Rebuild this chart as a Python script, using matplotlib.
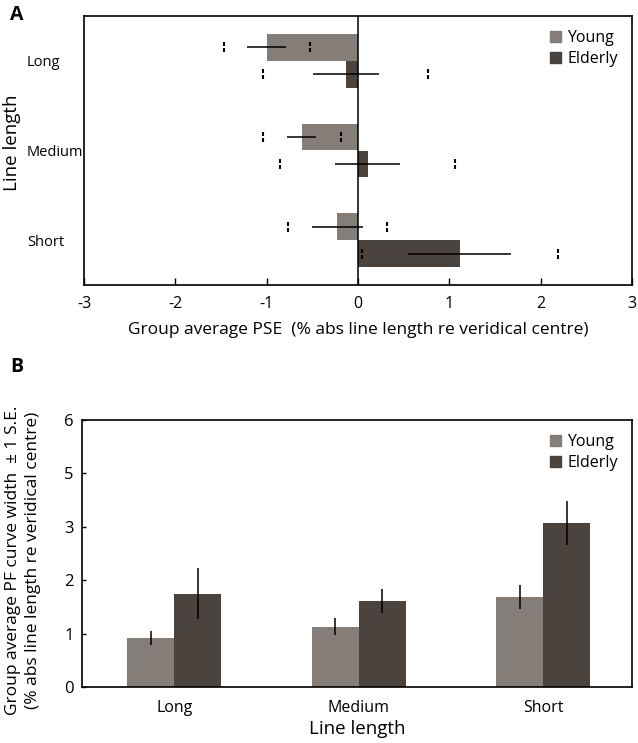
import matplotlib
matplotlib.use("Agg")
import matplotlib.pyplot as plt
import numpy as np
from matplotlib.patches import Patch

plt.rcParams['font.family'] = ['Open Sans', 'DejaVu Sans']

# ---- data ----
categories = ["Long", "Medium", "Short"]
groups = ["Young", "Elderly"]

# Panel A: group average PSE
pse_young = [-1.00, -0.615, -0.225]
pse_elderly = [-0.135, 0.105, 1.115]
pse_se_young = [0.21, 0.16, 0.275]
pse_se_elderly = [0.36, 0.355, 0.565]
pse_ci_young = [0.47, 0.43, 0.545]
pse_ci_elderly = [0.905, 0.955, 1.075]
a_xticks = [-3, -2, -1, 0, 1, 2, 3]

# Panel B: group average PF curve width
width_young = [0.91, 1.13, 1.685]
width_elderly = [1.75, 1.61, 3.07]
width_se_young = [0.13, 0.165, 0.22]
width_se_elderly = [0.47, 0.23, 0.415]
b_yticks = [0, 1, 2, 3, 4, 5]
b_yticklabels = ["0", "1", "2", "3", "5", "6"]

c_young = "#847d78"
c_elderly = "#4a433e"

W, H = 638, 743
fig = plt.figure(figsize=(W / 100, H / 100), dpi=100)

def ax_rect(l, t, r, b):
    return [l / W, 1 - b / H, (r - l) / W, (b - t) / H]

# ---------------- Panel A ----------------
axA = fig.add_axes(ax_rect(84, 16, 632, 285))
y = np.arange(len(categories))
h = 0.30
yy = y - h / 2
ye = y + h / 2
axA.barh(yy, pse_young, height=h, color=c_young, label="Young")
axA.barh(ye, pse_elderly, height=h, color=c_elderly, label="Elderly")
axA.errorbar(pse_young, yy, xerr=pse_se_young, fmt='none', ecolor='black',
             elinewidth=1.1, capsize=0)
axA.errorbar(pse_elderly, ye, xerr=pse_se_elderly, fmt='none', ecolor='black',
             elinewidth=1.1, capsize=0)
for vals, cis, pos in [(pse_young, pse_ci_young, yy), (pse_elderly, pse_ci_elderly, ye)]:
    for v, c, p in zip(vals, cis, pos):
        for xv in (v - c, v + c):
            axA.vlines(xv, p - 0.056, p + 0.056, colors='black', linewidth=1.5,
                       linestyles=(0, (1.9, 1.0)))
axA.axvline(0, color='black', linewidth=1.1)
axA.set_xlim(-3, 3)
axA.set_ylim(2.5, -0.5)
axA.set_xticks(a_xticks)
axA.set_xticklabels([str(t) for t in a_xticks])
axA.tick_params(axis='x', direction='in', length=5, width=1, labelsize=11.5, pad=8)
axA.set_yticks(y)
axA.set_yticklabels(categories, ha='left')
axA.tick_params(axis='y', length=0, labelsize=10.5, pad=41)
for s in axA.spines.values():
    s.set_linewidth(1.2)
axA.set_xlabel("Group average PSE  (% abs line length re veridical centre)",
               fontsize=12.5, labelpad=7)
fig.text(12 / W, 1 - 143 / H, "Line length", rotation=90, ha='center', va='center',
         fontsize=13.5)
axA.legend(handles=[Patch(color=c_young, label="Young"),
                    Patch(color=c_elderly, label="Elderly")],
           loc='upper right', bbox_to_anchor=(1.0, 1.0), frameon=False,
           fontsize=11.5, handlelength=0.7, handleheight=0.7,
           handletextpad=0.4, labelspacing=0.3)
fig.text(10 / W, 1 - 15 / H, "A", fontsize=14, fontweight='bold', ha='left', va='center')

# ---------------- Panel B ----------------
axB = fig.add_axes(ax_rect(82, 420, 632, 687))
x = np.arange(len(categories))
w = 0.255
axB.bar(x - w / 2, width_young, width=w, color=c_young, label="Young")
axB.bar(x + w / 2, width_elderly, width=w, color=c_elderly, label="Elderly")
axB.errorbar(x - w / 2, width_young, yerr=width_se_young, fmt='none', ecolor='black',
             elinewidth=1.1, capsize=0)
axB.errorbar(x + w / 2, width_elderly, yerr=width_se_elderly, fmt='none', ecolor='black',
             elinewidth=1.1, capsize=0)
axB.set_xlim(-0.5, 2.48)
axB.set_ylim(0, 5)
axB.set_yticks(b_yticks)
axB.set_yticklabels(b_yticklabels)
axB.tick_params(axis='y', direction='in', length=3, width=1, labelsize=12, pad=6)
axB.set_xticks(x)
axB.set_xticklabels(categories)
axB.tick_params(axis='x', length=0, labelsize=11.5, pad=9)
for s in axB.spines.values():
    s.set_linewidth(1.2)
axB.set_xlabel("Line length", fontsize=13.5, labelpad=3)
fig.text(13 / W, 1 - 560 / H, "Group average PF curve width  \u00b1 1 S.E.", rotation=90,
         ha='center', va='center', fontsize=12.5)
fig.text(33 / W, 1 - 560 / H, "(% abs line length re veridical centre)", rotation=90,
         ha='center', va='center', fontsize=12.5)
axB.legend(handles=[Patch(color=c_young, label="Young"),
                    Patch(color=c_elderly, label="Elderly")],
           loc='upper right', bbox_to_anchor=(1.0, 1.0), frameon=False,
           fontsize=11.5, handlelength=0.7, handleheight=0.7,
           handletextpad=0.4, labelspacing=0.3)
fig.text(10 / W, 1 - 367 / H, "B", fontsize=14, fontweight='bold', ha='left', va='center')

fig.savefig("out.png", dpi=100)
